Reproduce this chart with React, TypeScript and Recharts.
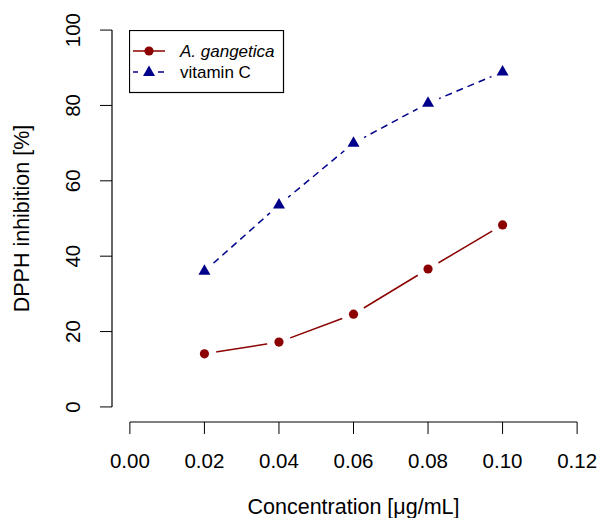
import React from 'react';
import { LineChart, Line, XAxis, YAxis, ReferenceLine, Legend, Label } from 'recharts';

const concentrations = [0.02, 0.04, 0.06, 0.08, 0.1];
const gangetica = [14.1, 17.2, 24.6, 36.6, 48.3];
const vitaminC = [36.0, 53.6, 70.0, 80.6, 88.9];
const xTicks = [0, 0.02, 0.04, 0.06, 0.08, 0.1, 0.12];
const yTicks = [0, 20, 40, 60, 80, 100];
const seriesNames = ['A. gangetica', 'vitamin C'];

const RED = '#8B0000';
const BLUE = '#00008B';
const FONT = "Arial, 'Liberation Sans', sans-serif";

const data = concentrations.map((c, i) => ({ x: c, g: gangetica[i], v: vitaminC[i] }));

const triPoints = (cx: number, cy: number) =>
  `${cx},${cy - 7} ${cx - 6},${cy + 3.5} ${cx + 6},${cy + 3.5}`;

const CircleDot = (props: any) => {
  const { cx, cy, index } = props;
  return (
    <g key={`c-${index}`}>
      <circle cx={cx} cy={cy} r={12} fill="#fff" />
      <circle cx={cx} cy={cy} r={4.6} fill={RED} />
    </g>
  );
};

const TriDot = (props: any) => {
  const { cx, cy, index } = props;
  return (
    <g key={`t-${index}`}>
      <circle cx={cx} cy={cy} r={12} fill="#fff" />
      <polygon points={triPoints(cx, cy)} fill={BLUE} />
    </g>
  );
};

const XTick = (props: any) => {
  const { x, y, payload } = props;
  return (
    <text x={x} y={y + 32} textAnchor="middle" fontSize={20.5} fontFamily={FONT} fill="#000">
      {Number(payload.value).toFixed(2)}
    </text>
  );
};

const YTick = (props: any) => {
  const { x, y, payload } = props;
  const tx = x - 18;
  return (
    <text x={tx} y={y} textAnchor="middle" fontSize={20.5} fontFamily={FONT} fill="#000"
      transform={`rotate(-90, ${tx}, ${y})`}>
      {payload.value}
    </text>
  );
};

const LegendBox = () => (
  <svg width={156} height={64} style={{ display: 'block' }}>
    <rect x={0.5} y={0.5} width={154} height={62} fill="#fff" stroke="#000" strokeWidth={1.2} />
    <line x1={4} x2={36} y1={21} y2={21} stroke={RED} strokeWidth={1.5} />
    <circle cx={20} cy={21} r={4.6} fill={RED} />
    <text x={51} y={27} fontSize={17} fontStyle="italic" fontFamily={FONT} fill="#000">{seriesNames[0]}</text>
    <line x1={4} x2={9} y1={42} y2={42} stroke={BLUE} strokeWidth={1.5} />
    <line x1={29} x2={35} y1={42} y2={42} stroke={BLUE} strokeWidth={1.5} />
    <polygon points={triPoints(20, 42.5)} fill={BLUE} />
    <text x={51} y={48} fontSize={17} fontFamily={FONT} fill="#000">{seriesNames[1]}</text>
  </svg>
);

export default function App() {
  return (
    <div style={{ position: 'absolute', left: 0, top: 0, background: '#fff' }}>
      <LineChart width={600} height={518} data={data}
        margin={{ top: 15, right: 5, bottom: 66, left: 52 }}
        style={{ fontFamily: FONT }}>
        <XAxis dataKey="x" type="number" domain={[-0.0048, 0.1248]} allowDataOverflow
          ticks={xTicks} axisLine={false} tickSize={12} tickLine={{ stroke: '#000' }}
          tick={<XTick />} interval={0} height={30}>
          <Label content={(p: any) => {
            const vb = p.viewBox;
            return (
              <text x={vb.x + vb.width / 2} y={vb.y + 92} textAnchor="middle" fontSize={21.5} fontFamily={FONT} fill="#000">
                Concentration [μg/mL]
              </text>
            );
          }} />
        </XAxis>
        <YAxis type="number" domain={[-4, 104]} allowDataOverflow ticks={yTicks}
          axisLine={false} tickSize={12} tickLine={{ stroke: '#000' }} tick={<YTick />}
          interval={0} width={60}>
          <Label content={(p: any) => {
            const vb = p.viewBox;
            const tx = vb.x - 23;
            const ty = vb.y + vb.height / 2;
            return (
              <text x={tx} y={ty} textAnchor="middle" fontSize={21.5} fontFamily={FONT} fill="#000"
                transform={`rotate(-90, ${tx}, ${ty})`}>
                DPPH inhibition [%]
              </text>
            );
          }} />
        </YAxis>
        <ReferenceLine segment={[{ x: 0, y: -4 }, { x: 0.12, y: -4 }]} stroke="#000" strokeWidth={1.2} ifOverflow="visible" />
        <ReferenceLine segment={[{ x: -0.0048, y: 0 }, { x: -0.0048, y: 100 }]} stroke="#000" strokeWidth={1.2} ifOverflow="visible" />
        <Line type="linear" dataKey="g" name={seriesNames[0]} stroke={RED} strokeWidth={1.5}
          dot={CircleDot} activeDot={false} isAnimationActive={false} />
        <Line type="linear" dataKey="v" name={seriesNames[1]} stroke={BLUE} strokeWidth={1.5}
          strokeDasharray="7 5" dot={TriDot} activeDot={false} isAnimationActive={false} />
        <Legend layout="horizontal" verticalAlign="middle" align="center"
          wrapperStyle={{ position: 'absolute', left: 129, top: 30, width: 156, height: 64 }}
          content={() => <LegendBox />} />
      </LineChart>
    </div>
  );
}
